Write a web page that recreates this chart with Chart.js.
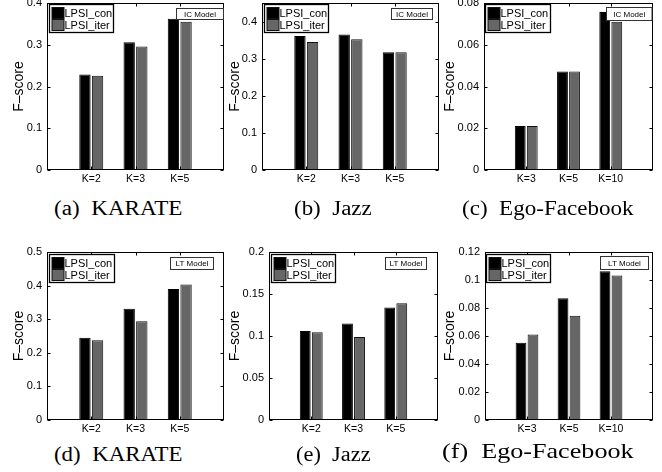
<!DOCTYPE html>
<html>
<head>
<meta charset="utf-8">
<script src="https://cdn.jsdelivr.net/npm/chart.js@4.4.0/dist/chart.umd.min.js"></script>
<style>
  html, body { margin: 0; padding: 0; background: #fff; }
  body { width: 662px; height: 472px; position: relative; overflow: hidden; }
  canvas.panel { position: absolute; }
  .cap { position: absolute; font-family: 'Liberation Serif', 'Times New Roman', serif;
         white-space: pre; color: #000; transform-origin: 0 0; }
</style>
</head>
<body>
<script>
// Group labels on the x axis
const kLabelsSmall = ['K=2', 'K=3', 'K=5'];
const kLabelsEgo = ['K=3', 'K=5', 'K=10'];
const seriesNames = ['LPSI_con', 'LPSI_iter'];
const modelNames = ['IC Model', 'LT Model'];

// F-score, IC model
const karateIcCon  = [0.229, 0.306, 0.362];
const karateIcIter = [0.226, 0.296, 0.355];
const jazzIcCon    = [0.361, 0.365, 0.317];
const jazzIcIter   = [0.345, 0.352, 0.317];
const egoIcCon     = [0.0211, 0.0472, 0.0757];
const egoIcIter    = [0.0211, 0.0472, 0.0710];

// F-score, LT model
const karateLtCon  = [0.245, 0.331, 0.390];
const karateLtIter = [0.237, 0.294, 0.403];
const jazzLtCon    = [0.106, 0.115, 0.134];
const jazzLtIter   = [0.1044, 0.0988, 0.139];
const egoLtCon     = [0.0552, 0.0869, 0.1063];
const egoLtIter    = [0.0610, 0.0744, 0.1032];

// y-axis tick values
const ticksKarateIc = [0, 0.1, 0.2, 0.3, 0.4];
const ticksJazzIc   = [0, 0.1, 0.2, 0.3, 0.4];
const ticksEgoIc    = [0, 0.02, 0.04, 0.06, 0.08];
const ticksKarateLt = [0, 0.1, 0.2, 0.3, 0.4, 0.5];
const ticksJazzLt   = [0, 0.05, 0.1, 0.15, 0.2];
const ticksEgoLt    = [0, 0.02, 0.04, 0.06, 0.08, 0.1, 0.12];

const captions = ['(a)  KARATE', '(b)  Jazz', '(c)  Ego-Facebook',
                  '(d)  KARATE', '(e)  Jazz', '(f)  Ego-Facebook'];

// Panel geometry (page pixels): plot area, legend box, model tag box, caption box
const panels = [
  { cats: kLabelsSmall, con: karateIcCon, iter: karateIcIter, ticks: ticksKarateIc, yMax: 0.4,  model: modelNames[0],
    area: [47, 3, 224, 170], titleCx: 19, legend: [49.5, 4.5, 64, 28], tag: [176.5, 8.5, 47, 11],
    cap: { x0: 54.3, x1: 182.7, cy: 208.3, size: 20 } },
  { cats: kLabelsSmall, con: jazzIcCon, iter: jazzIcIter, ticks: ticksJazzIc, yMax: 0.45, model: modelNames[0],
    area: [262, 3, 439, 170], titleCx: 235, legend: [264.5, 4.5, 64, 28], tag: [391.5, 8.5, 41, 11],
    cap: { x0: 294, x1: 371.7, cy: 208.3, size: 20 } },
  { cats: kLabelsEgo, con: egoIcCon, iter: egoIcIter, ticks: ticksEgoIc, yMax: 0.08, model: modelNames[0],
    area: [484, 3, 653, 170], titleCx: 450, legend: [485.5, 4.5, 65, 28], tag: [606.5, 7.5, 45.5, 13],
    cap: { x0: 461.7, x1: 633.3, cy: 208.3, size: 20 } },
  { cats: kLabelsSmall, con: karateLtCon, iter: karateLtIter, ticks: ticksKarateLt, yMax: 0.5, model: modelNames[1],
    area: [47, 252, 224, 420], titleCx: 19, legend: [49.5, 254.5, 65, 28], tag: [170.5, 257.5, 43, 12],
    cap: { x0: 54.3, x1: 182.7, cy: 453.7, size: 20 } },
  { cats: kLabelsSmall, con: jazzLtCon, iter: jazzLtIter, ticks: ticksJazzLt, yMax: 0.2, model: modelNames[1],
    area: [269, 252, 438, 420], titleCx: 235, legend: [271.5, 254.5, 64, 28], tag: [385.5, 257.5, 41, 12],
    cap: { x0: 296, x1: 370.7, cy: 453.7, size: 20 } },
  { cats: kLabelsEgo, con: egoLtCon, iter: egoLtIter, ticks: ticksEgoLt, yMax: 0.12, model: modelNames[1],
    area: [485, 252, 653, 420], titleCx: 450, legend: [486.5, 254.5, 64, 28], tag: [600.5, 256.5, 48, 13],
    cap: { x0: 441.7, x1: 633.3, cy: 451.5, size: 21 } }
];

const SANS = "'Liberation Sans', Arial, Helvetica, sans-serif";
Chart.defaults.font.family = SANS;
Chart.defaults.color = '#000';

const fmt = v => (v === 0 ? '0' : String(+v.toFixed(4)));

// Box outline with inward ticks, inset legend and model tag
const framePlugin = {
  id: 'frame',
  afterDatasetsDraw(chart, args, o) {
    const { ctx, chartArea: a, scales: { x, y } } = chart;
    const L = a.left + 0.5, R = a.right - 0.5, T = a.top + 0.5, B = a.bottom - 0.5;
    ctx.save();
    ctx.strokeStyle = '#000';
    ctx.lineWidth = 1;
    ctx.strokeRect(L, T, R - L, B - T);
    const tl = 3;
    ctx.beginPath();
    y.ticks.forEach(t => {
      const py = Math.round(y.getPixelForValue(t.value)) + 0.5;
      ctx.moveTo(L, py); ctx.lineTo(L + tl, py);
      ctx.moveTo(R, py); ctx.lineTo(R - tl, py);
    });
    for (let i = 1; i < chart.data.labels.length - 1; i++) {
      const px = Math.round(x.getPixelForValue(i)) + 0.5;
      ctx.moveTo(px, B); ctx.lineTo(px, B - tl);
      ctx.moveTo(px, T); ctx.lineTo(px, T + tl);
    }
    ctx.stroke();

    // legend
    const [lx, ly, lw, lh] = o.legend.map((v, i) => v - (i === 0 ? o.ox : i === 1 ? o.oy : 0));
    ctx.fillStyle = '#fff';
    ctx.fillRect(lx, ly, lw, lh);
    ctx.lineWidth = 1.3;
    ctx.strokeRect(lx, ly, lw, lh);
    ctx.lineWidth = 1;
    ctx.font = '11px ' + SANS;
    ctx.textBaseline = 'middle';
    ctx.textAlign = 'left';
    chart.data.datasets.forEach((ds, i) => {
      const cy = ly + 8.5 + i * 12;
      ctx.fillStyle = ds.backgroundColor;
      ctx.fillRect(lx + 2.5, cy - 5.5, 12, 11);
      ctx.strokeStyle = '#111';
      ctx.strokeRect(lx + 2.5, cy - 5.5, 12, 11);
      ctx.fillStyle = '#000';
      ctx.fillText(ds.label, lx + 15, cy + 0.5);
    });

    // model tag
    const tx = o.tag[0] - o.ox, ty = o.tag[1] - o.oy, tw = o.tag[2], th = o.tag[3];
    ctx.fillStyle = '#fff';
    ctx.fillRect(tx, ty, tw, th);
    ctx.strokeStyle = '#333';
    ctx.strokeRect(tx, ty, tw, th);
    ctx.fillStyle = '#000';
    ctx.font = '8px ' + SANS;
    ctx.textAlign = 'center';
    ctx.fillText(o.model, tx + tw / 2, ty + th / 2 + 0.5);
    ctx.restore();
  }
};

panels.forEach(p => {
  const [l, t, r, b] = p.area;
  const ox = l - 47, oy = t - 14;
  const w = r - ox + 6, h = b - oy + 22;
  const cv = document.createElement('canvas');
  cv.className = 'panel';
  cv.width = w; cv.height = h;
  cv.style.left = ox + 'px'; cv.style.top = oy + 'px';
  cv.style.width = w + 'px'; cv.style.height = h + 'px';
  document.body.appendChild(cv);

  const titleFont = 14;
  const titlePad = (p.titleCx - ox) - titleFont * 1.2 / 2;

  new Chart(cv, {
    type: 'bar',
    data: {
      labels: ['', ...p.cats, ''],
      datasets: [
        { label: seriesNames[0], data: [null, ...p.con, null], backgroundColor: '#000000',
          borderColor: '#000000', borderWidth: 1, categoryPercentage: 0.57, barPercentage: 0.9 },
        { label: seriesNames[1], data: [null, ...p.iter, null], backgroundColor: '#666666',
          borderColor: '#111111', borderWidth: 1, categoryPercentage: 0.57, barPercentage: 0.9 }
      ]
    },
    options: {
      responsive: false,
      animation: false,
      devicePixelRatio: 1,
      layout: { padding: { left: 0, top: 14, right: 6, bottom: 0 } },
      plugins: {
        legend: { display: false },
        tooltip: { enabled: false },
        frame: { legend: p.legend, tag: p.tag, model: p.model, ox, oy }
      },
      scales: {
        x: {
          type: 'category',
          offset: false,
          grid: { display: false, drawTicks: false },
          border: { display: false },
          ticks: { padding: 3, font: { size: 10.5 }, color: '#000', autoSkip: false, maxRotation: 0 },
          afterFit(s) { s.height = 22; }
        },
        y: {
          min: 0,
          max: p.yMax,
          grid: { display: false, drawTicks: false },
          border: { display: false },
          afterBuildTicks(s) { s.ticks = p.ticks.map(v => ({ value: v })); },
          ticks: { padding: 5, font: { size: 11 }, color: '#000', callback: v => fmt(v) },
          title: { display: true, text: 'F\u2013score', color: '#000', font: { size: titleFont },
                   padding: { top: titlePad, bottom: 0 } },
          afterFit(s) { s.width = 47; }
        }
      }
    },
    plugins: [framePlugin]
  });
});

// Sub-figure captions
panels.forEach((p, i) => {
  const c = p.cap;
  const d = document.createElement('div');
  d.className = 'cap';
  d.textContent = captions[i];
  d.style.fontSize = c.size + 'px';
  d.style.lineHeight = c.size + 'px';
  d.style.left = c.x0 + 'px';
  d.style.top = (c.cy - c.size * 0.5) + 'px';
  document.body.appendChild(d);
  const wNat = d.getBoundingClientRect().width;
  d.style.transform = 'scaleX(' + ((c.x1 - c.x0) / wNat).toFixed(4) + ')';
});
</script>
</body>
</html>
